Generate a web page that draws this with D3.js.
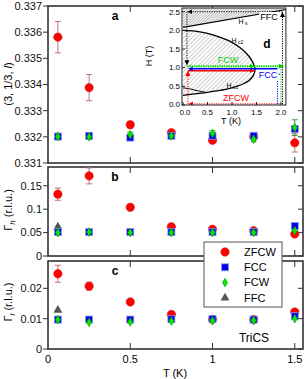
<!DOCTYPE html>
<html><head><meta charset="utf-8">
<script src="https://cdn.jsdelivr.net/npm/d3@7"></script>
<style>body{margin:0;background:#fff} svg{display:block;font-family:"Liberation Sans",Arial,Helvetica,sans-serif}</style>
</head><body><svg id="c" width="308" height="379"></svg>
<script>
// ---------------- data ----------------
const temps = [0.06, 0.25, 0.5, 0.75, 1.0, 1.25, 1.5];
const ffcTemps = [0.06];
// panel a : (3, 1/3, l)
const aZFCW = [0.33581, 0.33388, 0.33246, 0.33216, 0.33187, 0.33200, 0.33177];
const aZFCWerr = [0.0006, 0.0005, 0.00012, 0.00008, 0.00008, 0.00008, 0.00035];
const aFCC = [0.33201, 0.33204, 0.33197, 0.33204, 0.33204, 0.33204, 0.33230];
const aFCCerr = [0.0001, 0.0001, 0.0001, 0.0001, 0.0001, 0.0001, 0.0001];
const aFCW = [0.33201, 0.33200, 0.33208, 0.33204, 0.33213, 0.33191, 0.33235];
const aFCWerr = [0.0001, 0.0001, 0.0001, 0.0001, 0.0001, 0.0001, 0.0003];
const aFFC = [0.33201];
// panel b : Gamma_h
const bZFCW = [0.132, 0.171, 0.104, 0.0625, 0.057, 0.054, 0.047];
const bZFCWerr = [0.013, 0.017, 0, 0, 0, 0, 0];
const bFCC = [0.051, 0.051, 0.051, 0.051, 0.051, 0.051, 0.064];
const bFCW = [0.050, 0.051, 0.050, 0.050, 0.050, 0.050, 0.054];
const bFFC = [0.062];
// panel c : Gamma_l
const cZFCW = [0.0248, 0.0207, 0.0155, 0.0114, 0.0098, 0.0097, 0.0122];
const cZFCWerr = [0.0028, 0.0013, 0, 0, 0, 0, 0];
const cFCC = [0.0097, 0.0097, 0.0097, 0.0098, 0.0099, 0.0097, 0.0108];
const cFCW = [0.0097, 0.0088, 0.0089, 0.0092, 0.0093, 0.0094, 0.0100];
const cFFC = [0.0128];
// tick labels
const xTicks = [0, 0.5, 1, 1.5];
const xTickLabels = ["0", "0.5", "1", "1.5"];
const aTicks = [0.331, 0.332, 0.333, 0.334, 0.335, 0.336, 0.337];
const bTicks = [0, 0.05, 0.1, 0.15];
const bTickLabels = ["0", "0.05", "0.1", "0.15"];
const cTicks = [0, 0.01, 0.02];
const cTickLabels = ["0", "0.01", "0.02"];
const legendNames = ["ZFCW", "FCC", "FCW", "FFC"];
// inset (phase diagram) curves, in (T, H)
const insetTTicks = [0, 0.5, 1.0, 1.5, 2.0];
const insetHTicks = [0, 0.5, 1.0, 1.5, 2.0, 2.5];
const hsLine = [[0, 2.08], [2.1, 2.56]];
const hc2Upper = [[0, 2.0], [0.25, 1.98], [0.5, 1.92], [0.75, 1.82], [1.0, 1.68], [1.2, 1.5], [1.35, 1.3], [1.44, 1.1], [1.47, 0.95]];
const hc2Lower = [[1.47, 0.95], [1.44, 0.8], [1.35, 0.66], [1.2, 0.55], [1.0, 0.46], [0.75, 0.39], [0.5, 0.34], [0.25, 0.3], [0, 0.26]];
const hc1Line = [[0, 0.46], [0.15, 0.43], [0.3, 0.38], [0.45, 0.35]];

// ---------------- layout ----------------
const svg = d3.select("#c");
const X0 = 48, X1 = 303;
const x = d3.scaleLinear().domain([0, 1.55]).range([X0, X1]);
const panels = [
  {key: "a", domain: [0.331, 0.337], range: [163, 6], ticks: aTicks, labels: aTicks.map(d => d3.format(".3f")(d)),
   zfcw: aZFCW, zfcwErr: aZFCWerr, fcc: aFCC, fccErr: aFCCerr, fcw: aFCW, fcwErr: aFCWerr, ffc: aFFC},
  {key: "b", domain: [0, 0.19], range: [256, 167], ticks: bTicks, labels: bTickLabels,
   zfcw: bZFCW, zfcwErr: bZFCWerr, fcc: bFCC, fccErr: null, fcw: bFCW, fcwErr: null, ffc: bFFC},
  {key: "c", domain: [0, 0.029], range: [349, 261], ticks: cTicks, labels: cTickLabels,
   zfcw: cZFCW, zfcwErr: cZFCWerr, fcc: cFCC, fccErr: null, fcw: cFCW, fcwErr: null, ffc: cFFC}
];
const axisColor = "#333";
const fs = 11;

panels.forEach((p, i) => {
  const y = d3.scaleLinear().domain(p.domain).range(p.range);
  const g = svg.append("g");
  const yTop = p.range[1], yBot = p.range[0];
  p.ticks.forEach((t, k) => {
    g.append("line").attr("x1", X0 - 5).attr("x2", X0).attr("y1", y(t)).attr("y2", y(t)).attr("stroke", axisColor).attr("stroke-width", 1);
    g.append("line").attr("x1", X1 - 5).attr("x2", X1).attr("y1", y(t)).attr("y2", y(t)).attr("stroke", axisColor).attr("stroke-width", 1);
    g.append("text").attr("x", X0 - 6).attr("y", y(t)).attr("dy", "0.35em").attr("text-anchor", "end")
      .attr("font-size", fs).attr("fill", "#111").text(p.labels[k]);
  });
  xTicks.forEach(t => {
    if (t === 0) return;
    g.append("line").attr("x1", x(t)).attr("x2", x(t)).attr("y1", yTop).attr("y2", yTop + 6).attr("stroke", axisColor);
    g.append("line").attr("x1", x(t)).attr("x2", x(t)).attr("y1", yBot).attr("y2", yBot - 6).attr("stroke", axisColor);
  });
  g.append("rect").attr("x", X0).attr("y", yTop).attr("width", X1 - X0).attr("height", yBot - yTop)
    .attr("fill", "none").attr("stroke", axisColor).attr("stroke-width", 1.6);

  function errBars(vals, errs, color, tt) {
    if (!errs) return;
    vals.forEach((v, k) => {
      const e = errs[k]; if (!e) return;
      const cx = x(tt[k]);
      g.append("line").attr("x1", cx).attr("x2", cx).attr("y1", y(v - e)).attr("y2", y(v + e)).attr("stroke", color).attr("stroke-width", 1);
      [v - e, v + e].forEach(w => g.append("line").attr("x1", cx - 3).attr("x2", cx + 3).attr("y1", y(w)).attr("y2", y(w)).attr("stroke", color).attr("stroke-width", 1));
    });
  }
  errBars(p.zfcw, p.zfcwErr, "#c77070", temps);
  errBars(p.fcc, p.fccErr, "#5a6fd0", temps);
  errBars(p.fcw, p.fcwErr, "#3a9a3a", temps);

  g.selectAll(null).data(p.zfcw).join("circle").attr("cx", (d, k) => x(temps[k])).attr("cy", d => y(d)).attr("r", 4.2)
    .attr("fill", "#ff0000").attr("stroke", "#cc2222").attr("stroke-width", 0.6);
  g.selectAll(null).data(p.ffc).join("path").attr("d", d3.symbol(d3.symbolTriangle, 34))
    .attr("transform", (d, k) => `translate(${x(ffcTemps[k])},${y(d)})`).attr("fill", "#555");
  g.selectAll(null).data(p.fcc).join("rect").attr("x", (d, k) => x(temps[k]) - 3.5).attr("y", d => y(d) - 3.5)
    .attr("width", 7).attr("height", 7).attr("fill", "#0000ee").attr("stroke", "#8899ee").attr("stroke-width", 0.8);
  g.selectAll(null).data(p.fcw).join("path").attr("d", d3.symbol(d3.symbolDiamond, 22))
    .attr("transform", (d, k) => `translate(${x(temps[k])},${y(d)})`).attr("fill", "#00ee00").attr("stroke", "#1a8a1a").attr("stroke-width", 0.6);

  g.append("text").attr("x", 115).attr("y", yTop + 14).attr("text-anchor", "middle").attr("font-weight", "bold")
    .attr("font-size", 12).text(p.key);
});

function yTitle(cy, build) {
  const t = svg.append("text").attr("transform", `translate(12,${cy}) rotate(-90)`).attr("text-anchor", "middle").attr("font-size", 11);
  build(t);
}
yTitle(84, t => { t.append("tspan").text("(3, 1/3, "); t.append("tspan").attr("font-style", "italic").text("l"); t.append("tspan").text(")"); });
yTitle(210, t => { t.append("tspan").text("Γ"); t.append("tspan").attr("font-style", "italic").attr("dy", 3).attr("font-size", 8).text("h"); t.append("tspan").attr("dy", -3).text(" (r.l.u.)"); });
yTitle(302, t => { t.append("tspan").text("Γ"); t.append("tspan").attr("font-style", "italic").attr("dy", 3).attr("font-size", 8).text("l"); t.append("tspan").attr("dy", -3).text(" (r.l.u.)"); });

xTicks.forEach((t, k) => svg.append("text").attr("x", x(t)).attr("y", 363).attr("text-anchor", "middle").attr("font-size", fs).text(xTickLabels[k]));
svg.append("text").attr("x", 175).attr("y", 377).attr("text-anchor", "middle").attr("font-size", 11).text("T (K)");

svg.append("text").attr("x", 254).attr("y", 342).attr("text-anchor", "middle").attr("font-size", 12).text("TriCS");

const lg = svg.append("g");
lg.append("rect").attr("x", 204).attr("y", 242).attr("width", 78).attr("height", 65).attr("fill", "#fff").attr("stroke", "#555").attr("stroke-width", 1);
legendNames.forEach((n, k) => {
  const ly = 252 + k * 15.3, lx = 225;
  if (k === 0) lg.append("circle").attr("cx", lx).attr("cy", ly).attr("r", 4.2).attr("fill", "#ff0000").attr("stroke", "#cc2222").attr("stroke-width", 0.6);
  if (k === 1) lg.append("rect").attr("x", lx - 3.5).attr("y", ly - 3.5).attr("width", 7).attr("height", 7).attr("fill", "#0000ee").attr("stroke", "#8899ee").attr("stroke-width", 0.8);
  if (k === 2) lg.append("path").attr("d", d3.symbol(d3.symbolDiamond, 22)).attr("transform", `translate(${lx},${ly})`).attr("fill", "#00ee00").attr("stroke", "#1a8a1a").attr("stroke-width", 0.6);
  if (k === 3) lg.append("path").attr("d", d3.symbol(d3.symbolTriangle, 34)).attr("transform", `translate(${lx},${ly})`).attr("fill", "#555");
  lg.append("text").attr("x", 244).attr("y", ly).attr("dy", "0.35em").attr("font-size", 11).text(n);
});

// ---------------- inset d ----------------
const ix = d3.scaleLinear().domain([0, 2.0]).range([183, 281]);
const iy = d3.scaleLinear().domain([0, 2.6]).range([105, 8]);
const IX0 = 182, IX1 = ix(2.1), IY0 = 105, IY1 = 8;
const defs = svg.append("defs");
defs.append("pattern").attr("id", "hatch").attr("patternUnits", "userSpaceOnUse").attr("width", 3).attr("height", 3)
  .attr("patternTransform", "rotate(45)")
  .append("line").attr("x1", 0).attr("y1", 0).attr("x2", 0).attr("y2", 3).attr("stroke", "#777").attr("stroke-width", 0.7);
defs.append("pattern").attr("id", "hatch2").attr("patternUnits", "userSpaceOnUse").attr("width", 2).attr("height", 2)
  .attr("patternTransform", "rotate(45)")
  .append("line").attr("x1", 0).attr("y1", 0).attr("x2", 0).attr("y2", 2).attr("stroke", "#555").attr("stroke-width", 0.8);
defs.append("clipPath").attr("id", "iclip").append("rect").attr("x", IX0).attr("y", IY1).attr("width", IX1 - IX0).attr("height", IY0 - IY1);
["red", "blue", "green", "black"].forEach(c => {
  defs.append("marker").attr("id", "ar-" + c).attr("viewBox", "0 0 10 10").attr("refX", 9).attr("refY", 5)
    .attr("markerWidth", 5).attr("markerHeight", 5).attr("orient", "auto-start-reverse").attr("markerUnits", "userSpaceOnUse")
    .append("path").attr("d", "M0,0L10,5L0,10z").attr("fill", c === "green" ? "#00cc00" : c === "blue" ? "#0000ff" : c === "red" ? "#ff0000" : "#000");
});
const ig = svg.append("g");
ig.append("rect").attr("x", IX0).attr("y", IY1).attr("width", IX1 - IX0).attr("height", IY0 - IY1).attr("fill", "#fff");
const cg = ig.append("g").attr("clip-path", "url(#iclip)");
const line = d3.line().x(d => ix(d[0])).y(d => iy(d[1]));
const smooth = d3.line().curve(d3.curveCatmullRom).x(d => ix(d[0])).y(d => iy(d[1]));
cg.append("path").attr("d", line([hsLine[0], hsLine[1], [2.1, 2.7], [0, 2.7]]) + "Z").attr("fill", "url(#hatch2)");
cg.append("path").attr("d", line(hsLine)).attr("fill", "none").attr("stroke", "#000").attr("stroke-width", 1.2);
cg.append("path").attr("d", smooth(hc2Upper.concat(hc2Lower.slice(1))) + "Z").attr("fill", "url(#hatch)");
cg.append("path").attr("d", smooth(hc2Upper.concat(hc2Lower.slice(1))))
  .attr("fill", "none").attr("stroke", "#000").attr("stroke-width", 1.3);
cg.append("path").attr("d", smooth(hc1Line)).attr("fill", "none").attr("stroke", "#000").attr("stroke-width", 1);

function seg(p1, p2, color, dash, w, arrow) {
  const l = cg.append("line").attr("x1", ix(p1[0])).attr("y1", iy(p1[1])).attr("x2", ix(p2[0])).attr("y2", iy(p2[1]))
    .attr("stroke", color).attr("stroke-width", w);
  if (dash) l.attr("stroke-dasharray", dash);
  if (arrow) l.attr("marker-end", "url(#ar-" + arrow + ")");
}
seg([2.03, 0.02], [2.03, 2.48], "#000", "1.2,1.2", 1, "black");
seg([2.03, 2.5], [0.1, 2.5], "#000", "1.2,1.2", 1, "black");
seg([0.08, 2.5], [0.08, 1.08], "#000", "1.2,1.2", 1, "black");
seg([1.97, 0.03], [0.12, 0.03], "#ff0000", "1.2,1.2", 1, "red");
seg([0.1, 0.03], [0.1, 0.9], "#ff0000", "1.2,1.2", 1, "red");
seg([0.1, 0.92], [1.45, 0.92], "#ff0000", null, 1.6, "red");
seg([1.93, 0.03], [1.93, 0.92], "#0000ff", "1.2,1.2", 1, "blue");
seg([1.93, 0.97], [0.12, 0.97], "#0000ff", null, 1.6, "blue");
seg([2.0, 0.03], [2.0, 1.0], "#00cc00", "1.2,1.2", 1, null);
seg([0.08, 1.04], [1.45, 1.04], "#00dd00", "1.5,0.8", 2, "green");
seg([1.45, 1.04], [2.05, 1.04], "#00dd00", "1.5,0.8", 2, "green");

function itext(xp, yp, txt, color, size, opts) {
  const t = ig.append("text").attr("x", xp).attr("y", yp).attr("text-anchor", "middle").attr("font-size", size).attr("fill", color).text(txt);
  if (opts && opts.bold) t.attr("font-weight", "bold");
  if (opts && opts.bg) {
    const bb = t.node().getBBox();
    ig.insert("rect", "text:last-child").attr("x", bb.x - 1).attr("y", bb.y).attr("width", bb.width + 2).attr("height", bb.height).attr("fill", "#fff");
    t.raise();
  }
  return t;
}
itext(269, 20, "FFC", "#000", 9, {bg: true});
itext(241, 24, "H", "#000", 7);
itext(234, 43, "H", "#000", 7);
itext(229, 88, "H", "#000", 7);
itext(267, 48, "d", "#000", 12, {bold: true});
itext(228, 63, "FCW", "#00cc00", 9);
itext(268, 78, "FCC", "#0000ff", 9, {bg: true});
itext(236, 101, "ZFCW", "#ff0000", 9, {bg: true});
ig.append("text").attr("x", 245).attr("y", 25).attr("font-size", 5).text("s");
ig.append("text").attr("x", 238).attr("y", 44).attr("font-size", 5).text("c2");
ig.append("text").attr("x", 233).attr("y", 89).attr("font-size", 5).text("c1");

ig.append("rect").attr("x", IX0).attr("y", IY1).attr("width", IX1 - IX0).attr("height", IY0 - IY1).attr("fill", "none").attr("stroke", "#222").attr("stroke-width", 1);
insetTTicks.forEach(t => {
  ig.append("line").attr("x1", ix(t)).attr("x2", ix(t)).attr("y1", IY0).attr("y2", IY0 - 3).attr("stroke", "#222");
  ig.append("text").attr("x", ix(t) + (t === 0 ? 2 : 0)).attr("y", 115).attr("text-anchor", "middle").attr("font-size", 8).text(t.toFixed(1));
});
insetHTicks.forEach(h => {
  ig.append("line").attr("x1", IX0).attr("x2", IX0 + 3).attr("y1", iy(h)).attr("y2", iy(h)).attr("stroke", "#222");
  ig.append("text").attr("x", IX0 - 2).attr("y", iy(h) - (h === 0 ? 1 : 0)).attr("dy", "0.35em").attr("text-anchor", "end").attr("font-size", 8).text(h.toFixed(1));
});
ig.append("text").attr("x", 231).attr("y", 124).attr("text-anchor", "middle").attr("font-size", 9).text("T (K)");
ig.append("text").attr("transform", "translate(152,56) rotate(-90)").attr("text-anchor", "middle").attr("font-size", 9).text("H (T)");
</script></body></html>
